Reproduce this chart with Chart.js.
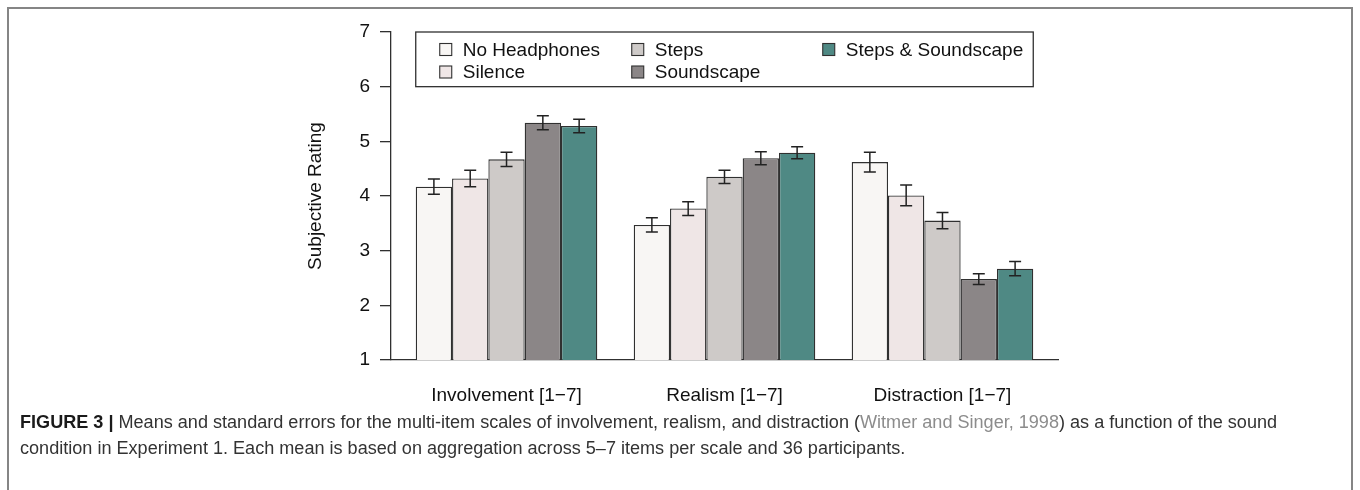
<!DOCTYPE html>
<html>
<head>
<meta charset="utf-8">
<script src="https://cdn.jsdelivr.net/npm/chart.js@4/dist/chart.umd.min.js"></script>
<style>
  html, body { margin: 0; padding: 0; background: #fff; }
  #wrap { position: relative; width: 1360px; height: 490px; overflow: hidden; }
  #frame { position: absolute; left: 7px; top: 7px; width: 1346px; height: 500px;
           border: 2px solid #858585; box-sizing: border-box; }
  #chart { position: absolute; left: 0; top: 0; }
  #caption { position: absolute; left: 20px; top: 409px; line-height: 26px; white-space: nowrap;
             font-family: "Liberation Sans", Arial, sans-serif; font-size: 15px; color: #333; }
  #caption b { color: #1a1a1a; }
  #caption .ref { color: #8c8c8c; }
</style>
</head>
<body>
<div id="wrap">
  <div id="frame"></div>
  <canvas id="chart" width="1360" height="490"></canvas>
  <div id="caption">
    <span id="line1"><b>FIGURE 3 |</b> Means and standard errors for the multi-item scales of involvement, realism, and distraction (<span class="ref">Witmer and Singer, 1998</span>) as a function of the sound</span><br>
    <span>condition in Experiment 1. Each mean is based on aggregation across 5–7 items per scale and 36 participants.</span>
  </div>
</div>
<script>
// categorias e condições
const categories = ['Involvement [1\u22127]', 'Realism [1\u22127]', 'Distraction [1\u22127]'];
const conditions = ['No Headphones', 'Silence', 'Steps', 'Soundscape', 'Steps & Soundscape'];

// médias por condição (Involvement, Realism, Distraction)
const noHeadphones = [4.17, 3.47, 4.62];
const silence = [4.32, 3.77, 4.01];
const steps = [4.67, 4.35, 3.55];
const soundscape = [5.34, 4.69, 2.48];
const stepsSoundscape = [5.28, 4.79, 2.67];

// erros padrão
const seNoHeadphones = [0.14, 0.13, 0.18];
const seSilence = [0.15, 0.125, 0.19];
const seSteps = [0.13, 0.12, 0.15];
const seSoundscape = [0.13, 0.12, 0.10];
const seStepsSoundscape = [0.125, 0.11, 0.13];

const yTicks = [1, 2, 3, 4, 5, 6, 7];

const means = [noHeadphones, silence, steps, soundscape, stepsSoundscape];
const errors = [seNoHeadphones, seSilence, seSteps, seSoundscape, seStepsSoundscape];
const colors = ['#f8f6f4', '#efe6e6', '#ceCAc8', '#8b8687', '#4f8984'];

const FONT = '"Liberation Sans", Arial, sans-serif';
const FSIZE = 19;
const INK = '#222';

// ajusta a legenda para a largura da primeira linha
(function fitCaption() {
    const cap = document.getElementById('caption');
    const line1 = document.getElementById('line1');
    const target = 1258;
    const w = line1.getBoundingClientRect().width;
    cap.style.fontSize = (15 * target / w).toFixed(2) + 'px';
})();

const datasets = conditions.map((name, i) => ({
    label: name,
    data: means[i].map((v, j) => ({ x: j, y: v })),
    backgroundColor: colors[i],
    borderColor: '#303030',
    borderWidth: 1.3,
    borderSkipped: 'bottom',
    barPercentage: 1,
    categoryPercentage: 0.833
}));

// barras de erro
const errorBars = {
    id: 'errorBars',
    afterDatasetsDraw(chart) {
        const ctx = chart.ctx;
        const y = chart.scales.y;
        ctx.save();
        ctx.strokeStyle = INK;
        ctx.lineWidth = 1.5;
        chart.data.datasets.forEach((ds, i) => {
            const meta = chart.getDatasetMeta(i);
            meta.data.forEach((bar, j) => {
                const v = means[i][j];
                const e = errors[i][j];
                const top = y.getPixelForValue(v + e);
                const bot = y.getPixelForValue(v - e);
                const cap = 6;
                ctx.beginPath();
                ctx.moveTo(bar.x, top); ctx.lineTo(bar.x, bot);
                ctx.moveTo(bar.x - cap, top); ctx.lineTo(bar.x + cap, top);
                ctx.moveTo(bar.x - cap, bot); ctx.lineTo(bar.x + cap, bot);
                ctx.stroke();
            });
        });
        ctx.restore();
    }
};

// legenda dentro do gráfico, com caixa
const boxLegend = {
    id: 'boxLegend',
    afterDraw(chart) {
        const ctx = chart.ctx;
        const y = chart.scales.y;
        const first = chart.getDatasetMeta(0).data[0];
        const lastMeta = chart.getDatasetMeta(conditions.length - 1);
        const last = lastMeta.data[lastMeta.data.length - 1];
        const left = first.x - first.width / 2;
        const right = last.x + last.width / 2;
        const top = y.getPixelForValue(7);
        const bottom = y.getPixelForValue(6);
        ctx.save();
        ctx.fillStyle = '#fff';
        ctx.fillRect(left, top, right - left, bottom - top);
        ctx.strokeStyle = '#303030';
        ctx.lineWidth = 1.3;
        ctx.strokeRect(left, top, right - left, bottom - top);
        const cols = [24, 216, 407];
        const rows = [17.5, 40];
        ctx.font = FSIZE + 'px ' + FONT;
        ctx.textBaseline = 'middle';
        conditions.forEach((name, i) => {
            const cx = left + cols[Math.floor(i / 2)];
            const cy = top + rows[i % 2];
            ctx.fillStyle = colors[i];
            ctx.fillRect(cx, cy - 6, 12, 12);
            ctx.strokeStyle = '#303030';
            ctx.lineWidth = 1.1;
            ctx.strokeRect(cx, cy - 6, 12, 12);
            ctx.fillStyle = '#111';
            ctx.fillText(name, cx + 23, cy + 1);
        });
        ctx.restore();
    }
};

const ctx = document.getElementById('chart').getContext('2d');
new Chart(ctx, {
    type: 'bar',
    data: { datasets: datasets },
    options: {
        responsive: false,
        animation: false,
        layout: { padding: { left: 300, right: 302, top: 32, bottom: 0 } },
        plugins: { legend: { display: false }, tooltip: { enabled: false } },
        scales: {
            x: {
                type: 'linear',
                min: -0.53,
                max: 2.53,
                offset: false,
                afterBuildTicks: (s) => { s.ticks = categories.map((c, i) => ({ value: i })); },
                afterFit: (s) => { s.height = 130; },
                grid: { display: false, drawTicks: false },
                border: { display: true, color: '#303030', width: 1.3 },
                ticks: {
                    padding: 24,
                    color: '#111',
                    font: { family: FONT, size: FSIZE },
                    callback: (v) => categories[v]
                }
            },
            y: {
                min: 1,
                max: 7,
                afterBuildTicks: (s) => { s.ticks = yTicks.map(v => ({ value: v })); },
                afterFit: (s) => { s.width = 91; },
                grid: { drawOnChartArea: false, drawTicks: true, tickLength: 11, color: '#303030', lineWidth: 1.3 },
                border: { display: true, color: '#303030', width: 1.3 },
                ticks: {
                    padding: 10,
                    color: '#111',
                    font: { family: FONT, size: FSIZE }
                },
                title: {
                    display: true,
                    text: 'Subjective Rating',
                    color: '#111',
                    font: { family: FONT, size: FSIZE },
                    padding: { top: 4, bottom: 0 }
                }
            }
        }
    },
    plugins: [errorBars, boxLegend]
});
</script>
</body>
</html>
